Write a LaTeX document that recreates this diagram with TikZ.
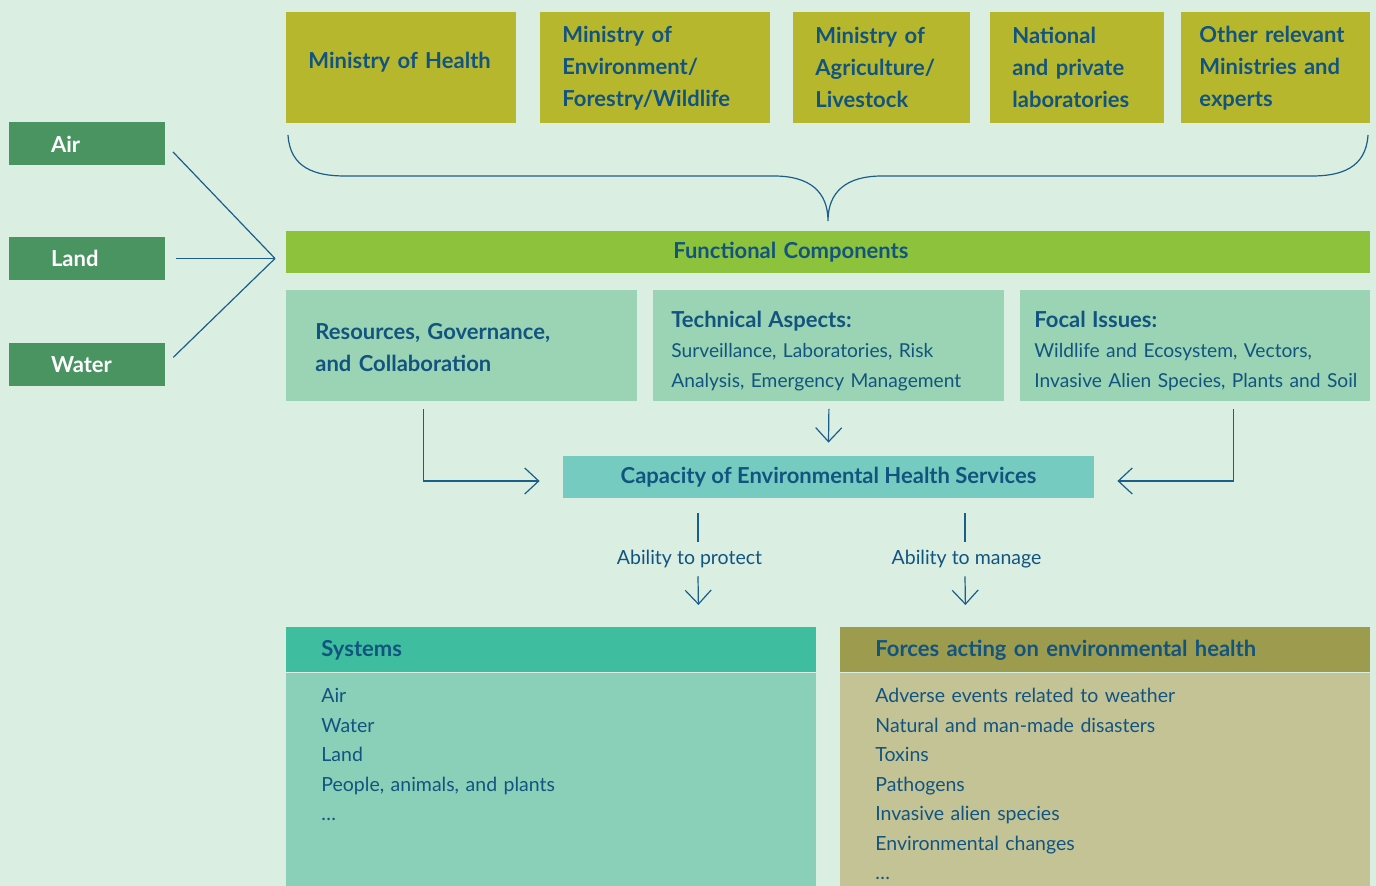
\documentclass[tikz,border=0pt]{standalone}
\usepackage{fontspec}
\setmainfont{Lato}
\usepackage{xcolor}
\usetikzlibrary{arrows.meta,positioning}

\definecolor{bgc}{RGB}{219,238,226}
\definecolor{inkc}{RGB}{18,84,128}
\definecolor{linec}{RGB}{27,94,138}
\definecolor{minc}{RGB}{183,183,46}
\definecolor{mediac}{RGB}{74,148,98}
\definecolor{funcc}{RGB}{141,194,60}
\definecolor{compc}{RGB}{155,212,180}
\definecolor{capc}{RGB}{118,203,192}
\definecolor{sysheadc}{RGB}{62,190,158}
\definecolor{sysbodyc}{RGB}{138,207,184}
\definecolor{forheadc}{RGB}{157,155,78}
\definecolor{forbodyc}{RGB}{196,195,150}

\newcommand{\comphead}[1]{{\bfseries\fontsize{11}{15}\selectfont #1}}

\tikzset{
  topstrut/.style={execute at begin node={\rule{0pt}{#1}}},
  ministry/.style={fill=minc, text=inkc, font=\bfseries\fontsize{11}{16}\selectfont,
    anchor=north west, align=left, inner xsep=11pt, inner ysep=0pt,
    minimum height=55.5pt, text width=#1},
  medium/.style={fill=mediac, text=white, font=\bfseries\fontsize{11}{12}\selectfont,
    align=left, inner xsep=21pt, inner ysep=0pt, text width=36pt, minimum height=21.5pt},
  func/.style={fill=funcc, text=inkc, font=\bfseries\fontsize{11}{12}\selectfont,
    anchor=north west, align=left, inner xsep=193.5pt, inner ysep=0pt,
    text width=155pt, minimum height=21pt},
  comp/.style={fill=compc, text=inkc, font=\fontsize{9.6}{15}\selectfont,
    anchor=north west, align=left, inner ysep=0pt, minimum height=55.5pt},
  capbox/.style={fill=capc, text=inkc, font=\bfseries\fontsize{11}{12}\selectfont,
    minimum width=265.5pt, minimum height=21pt, inner sep=0pt},
  lab/.style={text=inkc, font=\fontsize{9.75}{12}\selectfont, inner sep=4pt},
  head/.style={anchor=north west, text=inkc, font=\bfseries\fontsize{11}{12}\selectfont,
    align=left, inner xsep=17.5pt, inner ysep=0pt, text width=230pt, minimum height=22.5pt},
  body/.style={anchor=north west, text=inkc, font=\fontsize{9.75}{14.75}\selectfont,
    align=left, inner xsep=17.5pt, inner ysep=0pt, text width=230pt, minimum height=107pt,
    topstrut=11.2pt},
  link/.style={draw=linec, line width=0.6pt},
  arr/.style={link, -{Straight Barb[length=7pt,width=13pt]}}
}

\begin{document}
\begin{tikzpicture}[x=0.5pt,y=-0.5pt]
\useasboundingbox[fill=bgc] (0,0) rectangle (1376,886);

% sectors
\node[ministry=93pt, text depth=7.5pt] (moh) at (286,12) {Ministry of Health};
\node[ministry=93pt] (moe) at (540,12) {Ministry of\\Environment/\\Forestry/Wildlife};
\node[ministry=66.5pt] (moa) at (793,12) {Ministry of\\Agriculture/\\Livestock};
\node[ministry=65pt] (labs) at (990,12) {National\\and private\\laboratories};
\node[ministry=76.5pt, inner xsep=9pt] (other) at (1181,12) {Other relevant\\Ministries and\\experts};

% media
\node[medium] (air) at (87,144) {Air};
\node[medium] (land) at (87,258.5) {Land};
\node[medium] (water) at (87,365) {Water};
\coordinate (hub) at (275,258.5);

\node[func] (func) at (286,231) {Functional Components};

% components
\node[comp, font=\bfseries\fontsize{11}{16}\selectfont, inner xsep=14.5pt, text width=146.5pt,
  topstrut=10pt] (res) at (286,290) {Resources, Governance,\\and Collaboration};
\node[comp, inner xsep=9pt, text width=157.5pt, topstrut=13pt] (tech) at (653,290)
  {\comphead{Technical Aspects:}\\Surveillance, Laboratories, Risk\\Analysis, Emergency Management};
\node[comp, inner xsep=7pt, text width=161pt, topstrut=13pt] (focal) at (1020,290)
  {\comphead{Focal Issues:}\\Wildlife and Ecosystem, Vectors,\\\mbox{Invasive Alien Species, Plants and Soil}};

\node[capbox] (cap) at (828.5,477) {Capacity of Environmental Health Services};

\node[lab] (protect) at (689.5,559) {Ability to protect};
\node[lab] (manage) at (966.5,559) {Ability to manage};

% outcomes
\node[head, fill=sysheadc] (syshd) at (286,627) {Systems};
\node[body, fill=sysbodyc] (sysbd) at (syshd.south west)
  {Air\\Water\\Land\\People, animals, and plants\\\dots\\\mbox{}\\\mbox{}};
\node[head, fill=forheadc] (forhd) at (840,627) {Forces acting on environmental health};
\node[body, fill=forbodyc] (forbd) at (forhd.south west)
  {Adverse events related to weather\\Natural and man-made disasters\\Toxins\\Pathogens\\Invasive alien species\\Environmental changes\\\dots};

% connectors
\draw[link, shorten <=5.5pt] (air.east) -- (hub);
\draw[link, shorten <=5.5pt] (land.east) -- (hub);
\draw[link, shorten <=5.5pt] (water.east) -- (hub);

\draw[link] (288,135) .. controls (290,168) and (315,176) .. (345,176) -- (774,176)
  .. controls (810,176) and (828,192) .. (828,221)
  .. controls (828,192) and (846,176) .. (882,176) -- (1312,176)
  .. controls (1341,176) and (1366,168) .. (1368,135);

\draw[arr] ([xshift=-19.25pt,yshift=-3.5pt]res.south) |- ([xshift=-11.5pt,yshift=-2pt]cap.west);
\draw[arr] ([xshift=19pt,yshift=-3.5pt]focal.south) |- ([xshift=11.5pt,yshift=-2pt]cap.east);
\draw[arr] ([yshift=-3.5pt]tech.south) -- ([yshift=6.5pt]cap.north);

\draw[link] ([xshift=-65.25pt,yshift=-7.5pt]cap.south) -- ([xshift=4.25pt]protect.north);
\draw[arr] ([xshift=4.25pt]protect.south) -- ([xshift=73.5pt,yshift=11pt]syshd.north);
\draw[link] ([xshift=68.25pt,yshift=-7.5pt]cap.south) -- ([xshift=-0.75pt]manage.north);
\draw[arr] ([xshift=-0.75pt]manage.south) -- ([xshift=-70pt,yshift=11pt]forhd.north);
\end{tikzpicture}
\end{document}
